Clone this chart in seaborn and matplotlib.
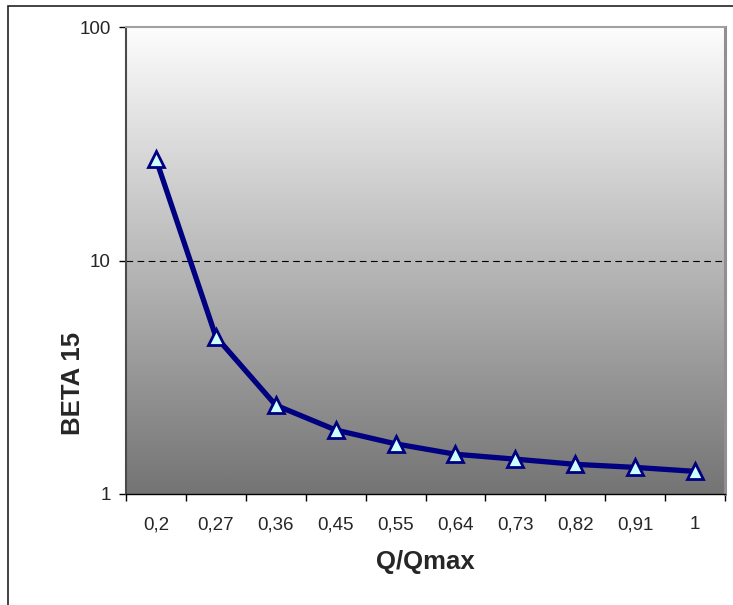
import numpy as np
import pandas as pd
import matplotlib
matplotlib.use("Agg")
import matplotlib.pyplot as plt
from matplotlib.patches import Rectangle
from matplotlib.ticker import FixedLocator, NullFormatter, NullLocator
import seaborn as sns

# Flow ratio categories and BETA 15 values
q_ratio = ["0,2", "0,27", "0,36", "0,45", "0,55", "0,64", "0,73", "0,82", "0,91", "1"]
beta15 = [27.2, 4.72, 2.40, 1.88, 1.64, 1.48, 1.41, 1.34, 1.30, 1.25]
y_ticks = [1, 10, 100]
y_tick_labels = ["1", "10", "100"]

sns.set_theme(style="white")
plt.rcParams["font.family"] = ["Liberation Sans", "DejaVu Sans"]

df = pd.DataFrame({"Q/Qmax": q_ratio, "BETA 15": beta15})

fig = plt.figure(figsize=(7.33, 6.05), dpi=100)
fig.patch.set_facecolor("white")
ax = fig.add_axes([126 / 733, 1 - 494 / 605, 599 / 733, 467 / 605])

# vertical gradient background: light at top, darker gray at bottom
grad = np.linspace(1.0, 0.0, 256).reshape(-1, 1)
cmap = matplotlib.colors.LinearSegmentedColormap.from_list("bg", ["#747474", "#fdfdfd"])
ax.imshow(grad, cmap=cmap, aspect="auto", extent=[0, 1, 0, 1],
          transform=ax.transAxes, zorder=0, interpolation="bicubic")

sns.lineplot(data=df, x="Q/Qmax", y="BETA 15", ax=ax, color="#000080",
             linewidth=3.8, marker="^", markersize=11.5,
             markerfacecolor="#ccffff", markeredgecolor="#000080",
             markeredgewidth=2.0, zorder=3, sort=False)

ax.set_yscale("log")
ax.set_ylim(1, 100)
ax.set_xlim(-0.5, len(q_ratio) - 0.5)

ax.yaxis.set_major_locator(FixedLocator(y_ticks))
ax.set_yticklabels(y_tick_labels)
ax.yaxis.set_minor_locator(NullLocator())
ax.tick_params(axis="y", which="major", direction="out", length=5, width=1,
               color="black", pad=6, labelsize=13.5, left=True)

ax.set_xticks(range(len(q_ratio)))
ax.set_xticklabels(q_ratio)
ax.xaxis.set_minor_locator(FixedLocator(np.arange(-0.5, len(q_ratio), 1.0)))
ax.xaxis.set_minor_formatter(NullFormatter())
ax.tick_params(axis="x", which="major", length=0, pad=16, labelsize=13.5)
ax.tick_params(axis="x", which="minor", direction="out", length=5, width=1,
               color="black", bottom=True)

ax.grid(False)
ax.axhline(10, color="black", linewidth=0.8, linestyle=(0, (6, 4)), zorder=2)

ax.spines["left"].set_color("#4a4a4a")
ax.spines["left"].set_linewidth(1.5)
ax.spines["bottom"].set_color("black")
ax.spines["bottom"].set_linewidth(1.0)
ax.spines["top"].set_color("#a0a0a0")
ax.spines["top"].set_linewidth(1.5)
ax.spines["right"].set_color("#909090")
ax.spines["right"].set_linewidth(2.2)
for s in ax.spines.values():
    s.set_zorder(4)

ax.set_xlabel("Q/Qmax", fontsize=18.5, fontweight="bold")
ax.set_ylabel("BETA 15", fontsize=18.5, fontweight="bold")
ax.xaxis.set_label_coords((425 - 126) / 599, (494 - 562) / 467)
ax.xaxis.label.set_va("center")
ax.yaxis.set_label_coords((73 - 126) / 599, (494 - 383) / 467)
ax.yaxis.label.set_va("center")

# outer chart frame
fig.patches.append(Rectangle((8 / 733, -0.05), 1.0, 1 - 6 / 605 + 0.05,
                             transform=fig.transFigure, fill=False,
                             edgecolor="#222222", linewidth=1.2))

fig.savefig("out.png", dpi=100)
